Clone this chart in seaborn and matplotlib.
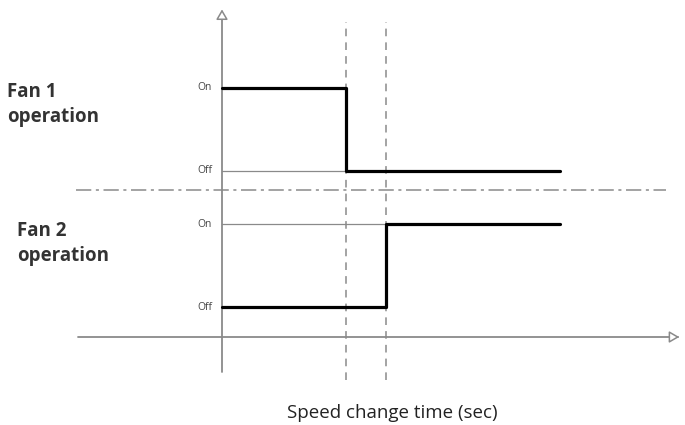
import pandas as pd
import seaborn as sns
import matplotlib.pyplot as plt
from matplotlib.patches import FancyArrowPatch

# timing diagram data (x in arbitrary time units, state 1 = On, 0 = Off)
fan1_times = [0, 3.1, 8.45]
fan1_state = [1, 0, 0]
fan2_times = [0, 4.1, 8.45]
fan2_state = [0, 1, 1]
switch_times = [3.1, 4.1]
fan1_base = 2.0
fan2_base = 0.36
panel_split = 1.77
state_labels = ["Off", "On"]

df = pd.DataFrame({
    "time": fan1_times + fan2_times,
    "level": [fan1_base + s for s in fan1_state] + [fan2_base + s for s in fan2_state],
    "fan": ["Fan 1"] * 3 + ["Fan 2"] * 3,
})

sns.set_style("white")
plt.rcParams["font.family"] = ["Open Sans", "DejaVu Sans"]

fig = plt.figure(figsize=(6.85, 4.25), dpi=100)
ax = fig.add_axes([0, 0, 1, 1])
ax.set_xlim(-5.55, 11.575)
ax.set_ylim(-1.06, 4.06)
ax.axis("off")

gray = "#8a8a8a"

# On/Off labels and thin reference line at the level each fan ends in
for base, times, states in [(fan1_base, fan1_times, fan1_state), (fan2_base, fan2_times, fan2_state)]:
    ax.plot([times[0], times[-1]], [base + states[-1]] * 2, color=gray, lw=0.9, zorder=1)
    for s in [0, 1]:
        ax.text(-0.25, base + s, state_labels[s], ha="right", va="center",
                fontsize=7.5, color="#444444")

# step signals
sns.lineplot(data=df, x="time", y="level", units="fan", estimator=None,
             drawstyle="steps-post", color="black", lw=2.3, ax=ax, zorder=3,
             legend=False)

# dashed switch markers
for t in switch_times:
    ax.plot([t, t], [-0.52, 3.80], color=gray, lw=1.1, ls=(0, (5, 4)), zorder=2)

# dash-dot separator between the two fans
ax.plot([-3.65, 11.1], [panel_split, panel_split], color=gray, lw=1.1,
        ls=(0, (10, 3, 2, 3)), zorder=2)

# axes with open arrow heads
ax.plot([0, 0], [-0.42, 3.85], color=gray, lw=1.3, zorder=2)
ax.add_patch(FancyArrowPatch((0, 3.8), (0, 3.98), arrowstyle="-|>,head_length=6,head_width=3.5",
                             fc="white", ec=gray, lw=1.1, mutation_scale=1, zorder=4))
ax.plot([-3.6, 11.35], [0, 0], color=gray, lw=1.3, zorder=2)
ax.add_patch(FancyArrowPatch((11.3, 0), (11.5, 0), arrowstyle="-|>,head_length=6,head_width=3.5",
                             fc="white", ec=gray, lw=1.1, mutation_scale=1, zorder=4))

# labels
ax.text(-5.38, 2.80, "Fan 1\noperation", ha="left", va="center", fontsize=13.5,
        fontweight="bold", color="#333333", linespacing=1.35)
ax.text(-5.12, 1.13, "Fan 2\noperation", ha="left", va="center", fontsize=13.5,
        fontweight="bold", color="#333333", linespacing=1.35)
ax.text(4.25, -0.91, "Speed change time (sec)", ha="center", va="center",
        fontsize=13.5, color="#222222")

fig.savefig("out.png", dpi=100)
